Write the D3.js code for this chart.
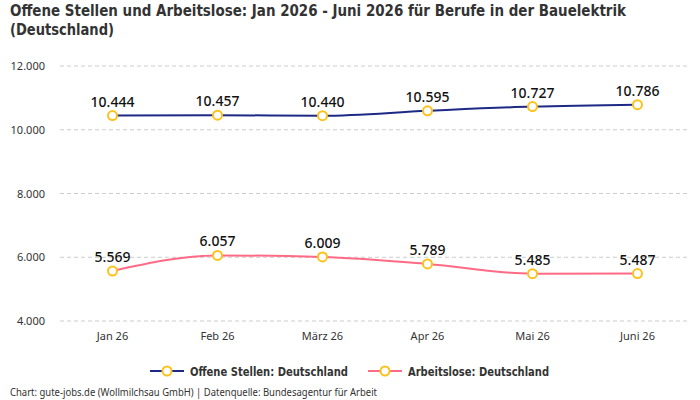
<!DOCTYPE html>
<html>
<head>
<meta charset="utf-8">
<script src="https://cdn.jsdelivr.net/npm/d3@7"></script>
<style>
  body { margin: 0; background: #fff; }
  text { font-family: "Noto Sans", sans-serif; }
  .cond { font-family: "DejaVu Sans", sans-serif; font-stretch: condensed; font-weight: bold; }
</style>
</head>
<body>
<svg id="chart" width="700" height="400"></svg>
<script>
const months = ["Jan 26", "Feb 26", "März 26", "Apr 26", "Mai 26", "Juni 26"];
const offeneStellen = [10444, 10457, 10440, 10595, 10727, 10786];
const arbeitslose = [5569, 6057, 6009, 5789, 5485, 5487];
const yTicks = [4000, 6000, 8000, 10000, 12000];

const series = [
  { name: "Offene Stellen: Deutschland", values: offeneStellen, color: "#1d2a85" },
  { name: "Arbeitslose: Deutschland", values: arbeitslose, color: "#ff6b86" },
];

const fmt = d3.formatLocale({ decimal: ",", thousands: ".", grouping: [3], currency: ["", "€"] }).format(",d");

const svg = d3.select("#chart");

const x = d3.scaleBand().domain(months).range([60, 690]);
const y = d3.scaleLinear().domain([4000, 12000]).range([321, 66]);
const cx = (m) => x(m) + x.bandwidth() / 2;

// title
svg.append("text").attr("class", "cond")
  .attr("x", 10).attr("y", 16)
  .attr("textLength", 616).attr("lengthAdjust", "spacingAndGlyphs")
  .style("font-size", "16px").attr("fill", "#333")
  .text("Offene Stellen und Arbeitslose: Jan 2026 - Juni 2026 für Berufe in der Bauelektrik");
svg.append("text").attr("class", "cond")
  .attr("x", 10).attr("y", 35)
  .attr("textLength", 104).attr("lengthAdjust", "spacingAndGlyphs")
  .style("font-size", "16px").attr("fill", "#333")
  .text("(Deutschland)");

// grid
const grid = svg.append("g");
grid.selectAll("line").data(yTicks).join("line")
  .attr("x1", 60).attr("x2", 690)
  .attr("y1", (d) => y(d)).attr("y2", (d) => y(d))
  .attr("stroke", "#cccccc").attr("stroke-dasharray", "4,3");
grid.selectAll("text").data(yTicks).join("text")
  .attr("x", 45).attr("y", (d) => y(d) + 4)
  .attr("text-anchor", "end").style("font-size", "11px").attr("fill", "#333")
  .text((d) => fmt(d));

// x labels
svg.append("g").selectAll("text").data(months).join("text")
  .attr("x", (d) => cx(d)).attr("y", 340)
  .attr("text-anchor", "middle").style("font-size", "11px").attr("fill", "#333")
  .text((d) => d);

const line = d3.line()
  .x((d, i) => cx(months[i]))
  .y((d) => y(d))
  .curve(d3.curveMonotoneX);

series.forEach((s) => {
  const g = svg.append("g");
  g.append("path")
    .attr("d", line(s.values))
    .attr("fill", "none").attr("stroke", s.color).attr("stroke-width", 2);
  g.selectAll("circle").data(s.values).join("circle")
    .attr("cx", (d, i) => cx(months[i])).attr("cy", (d) => y(d))
    .attr("r", 4.5).attr("fill", "#fff").attr("stroke", "#fcc21b").attr("stroke-width", 2);
  g.selectAll("text").data(s.values).join("text")
    .attr("x", (d, i) => cx(months[i])).attr("y", (d) => y(d) - 9)
    .attr("text-anchor", "middle").style("font-size", "14px").style("font-weight", "500")
    .attr("fill", "#111")
    .text((d) => fmt(d));
});

// legend
const legend = svg.append("g").attr("transform", "translate(0, 371)");
const legendX = [150, 368];
const legendW = [158, 141];
series.forEach((s, i) => {
  const lg = legend.append("g").attr("transform", `translate(${legendX[i]}, 0)`);
  lg.append("line").attr("x1", 0).attr("x2", 34).attr("y1", 0).attr("y2", 0)
    .attr("stroke", s.color).attr("stroke-width", 2);
  lg.append("circle").attr("cx", 17).attr("cy", 0).attr("r", 4.5)
    .attr("fill", "#fff").attr("stroke", "#fcc21b").attr("stroke-width", 2);
  lg.append("text").attr("class", "cond").attr("x", 40).attr("y", 4.5)
    .attr("textLength", legendW[i]).attr("lengthAdjust", "spacingAndGlyphs")
    .style("font-size", "13px").attr("fill", "#333")
    .text(s.name);
});

// footer
svg.append("text")
  .attr("x", 10).attr("y", 396)
  .attr("textLength", 367).attr("lengthAdjust", "spacingAndGlyphs")
  .style("font-size", "10px").attr("fill", "#333")
  .text("Chart: gute-jobs.de (Wollmilchsau GmbH) | Datenquelle: Bundesagentur für Arbeit");
</script>
</body>
</html>
